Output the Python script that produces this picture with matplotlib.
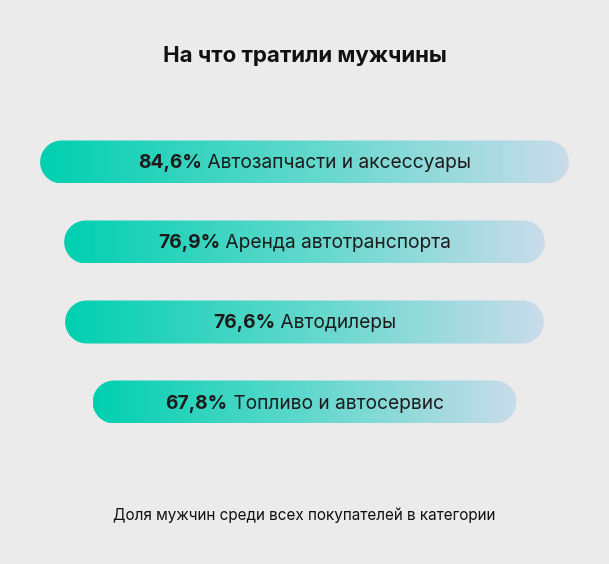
import matplotlib
matplotlib.use('Agg')
import matplotlib.pyplot as plt
import numpy as np
from matplotlib.patches import PathPatch
from matplotlib.path import Path
from matplotlib.colors import LinearSegmentedColormap

# data
categories = ["Автозапчасти и аксессуары", "Аренда автотранспорта",
              "Автодилеры", "Топливо и автосервис"]
shares = [84.6, 76.9, 76.6, 67.8]
value_labels = ["84,6%", "76,9%", "76,6%", "67,8%"]

title = "На что тратили мужчины"
footnote = "Доля мужчин среди всех покупателей в категории"

BG = "#ebebeb"
FONT = "Inter"
cmap = LinearSegmentedColormap.from_list("bar", ["#00d0b0", "#5fd8cc", "#c9dcea"])


def pill(x0, x1, yc, r):
    # rectangle with semicircular caps
    a = np.linspace(np.pi / 2, 3 * np.pi / 2, 40)
    left = np.column_stack([x0 + r + r * np.cos(a), yc + r * np.sin(a)])
    b = np.linspace(-np.pi / 2, np.pi / 2, 40)
    right = np.column_stack([x1 - r + r * np.cos(b), yc + r * np.sin(b)])
    verts = np.vstack([left, right, left[:1]])
    codes = [Path.MOVETO] + [Path.LINETO] * (len(verts) - 2) + [Path.CLOSEPOLY]
    return Path(verts, codes)


fig = plt.figure(figsize=(6.09, 5.64), dpi=100, facecolor=BG)
ax = fig.add_axes([0, 0, 1, 1])
ax.set_facecolor(BG)

# 1 data unit = 6.25 px in both directions
px = 6.25
ax.set_xlim(-609 / px / 2, 609 / px / 2)
ax.set_ylim(-(564 - 162) / px, 162 / px)
ax.set_aspect('equal')
ax.axis('off')

step = 80 / px
h = 43 / px
grad = np.linspace(0, 1, 256).reshape(1, -1)

fig.canvas.draw()
renderer = fig.canvas.get_renderer()

for i, (cat, v, lab) in enumerate(zip(categories, shares, value_labels)):
    yc = -i * step
    x0 = -v / 2
    patch = PathPatch(pill(x0, x0 + v, yc, h / 2), linewidth=0,
                      facecolor='none')
    ax.add_patch(patch)
    im = ax.imshow(grad, cmap=cmap, aspect='auto',
                   extent=(x0, x0 + v, yc - h / 2, yc + h / 2), zorder=1)
    im.set_clip_path(patch)

    ty = yc - 1.5 / px
    t1 = ax.text(0, ty, lab, fontsize=13.8, fontweight='bold', family=FONT,
                 color="#1c1c1c", va='center', ha='left', zorder=3)
    t2 = ax.text(0, ty, " " + cat, fontsize=13.8, family=FONT,
                 color="#1c1c1c", va='center', ha='left', zorder=3)
    w1 = t1.get_window_extent(renderer).width / px
    w2 = t2.get_window_extent(renderer).width / px
    start = -(w1 + w2) / 2
    t1.set_x(start)
    t2.set_x(start + w1)

ax.text(0, (162 - 56) / px, title, fontsize=16, fontweight='bold',
        family=FONT, color="#111111", ha='center', va='center')
ax.text(0, -(515 - 162) / px, footnote, fontsize=11, family=FONT,
        color="#111111", ha='center', va='center')

fig.savefig("out.png", dpi=100, facecolor=BG)
